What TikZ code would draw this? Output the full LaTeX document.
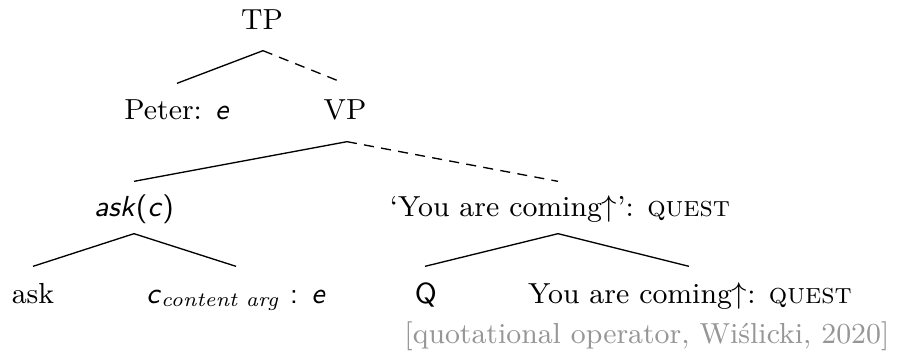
\documentclass[tikz,border=0pt]{standalone}
\usepackage{amsmath}
\usetikzlibrary{calc}
\definecolor{citegray}{RGB}{150,150,150}
\begin{document}
\begin{tikzpicture}[x=0.3pt,y=-0.3pt,
  every node/.style={font=\fontsize{8.7}{10}\selectfont},
  lbl/.style={anchor=base,inner sep=0pt,text height=6pt,text depth=0pt},
  edge/.style={line width=0.4pt},
  dedge/.style={line width=0.4pt,dash pattern=on 3pt off 2.2pt}]
\useasboundingbox (0,0) rectangle (906,351);
% nodes
\node[lbl] (TP) at (262,29) {TP};
\node[lbl] (Peter) at (177,119) {Peter: \textsf{\textit{e}}};
\node[lbl] (VP) at (345,119) {VP};
\node[lbl] (askc) at (134,216) {\textsf{\textit{ask}(\textit{c})}};
\node[lbl] (You) at (560,216) {`You are coming$\uparrow$': \textsc{quest}};
\node[lbl] (ask) at (33,303) {ask};
\node[lbl] (carg) at (236,303) {\textsf{\textit{c}}$_{\text{\itshape content arg}}$ \textsf{:} \textsf{\textit{e}}};
\node[lbl] (Q) at (426,303) {\textsf{Q}};
\node[lbl] (You2) at (690,303) {You are coming$\uparrow$: \textsc{quest}};
\node[anchor=base east,inner sep=0pt,text=citegray] (cite) at (890,343) {[quotational operator, Wi\'slicki, 2020]};
% connectors
\draw[edge] ($(TP.south)+(1,21)$) -- ($(Peter.north)+(0,-15)$);
\draw[dedge] ($(TP.south)+(1,21)$) -- ($(VP.north)+(-3,-16)$);
\draw[edge] ($(VP.south)+(2,22)$) -- ($(askc.north)+(0,-14)$);
\draw[dedge] ($(VP.south)+(2,22)$) -- ($(You.north)+(-2,-14)$);
\draw[edge] ($(askc.south)+(0,17)$) -- ($(ask.north)+(0,-16)$);
\draw[edge] ($(askc.south)+(0,17)$) -- ($(carg.north)+(0,-16)$);
\draw[edge] ($(You.south)+(-2,17)$) -- ($(Q.north)+(-1,-16)$);
\draw[edge] ($(You.south)+(-2,17)$) -- ($(You2.north)+(-1,-16)$);
\end{tikzpicture}
\end{document}
